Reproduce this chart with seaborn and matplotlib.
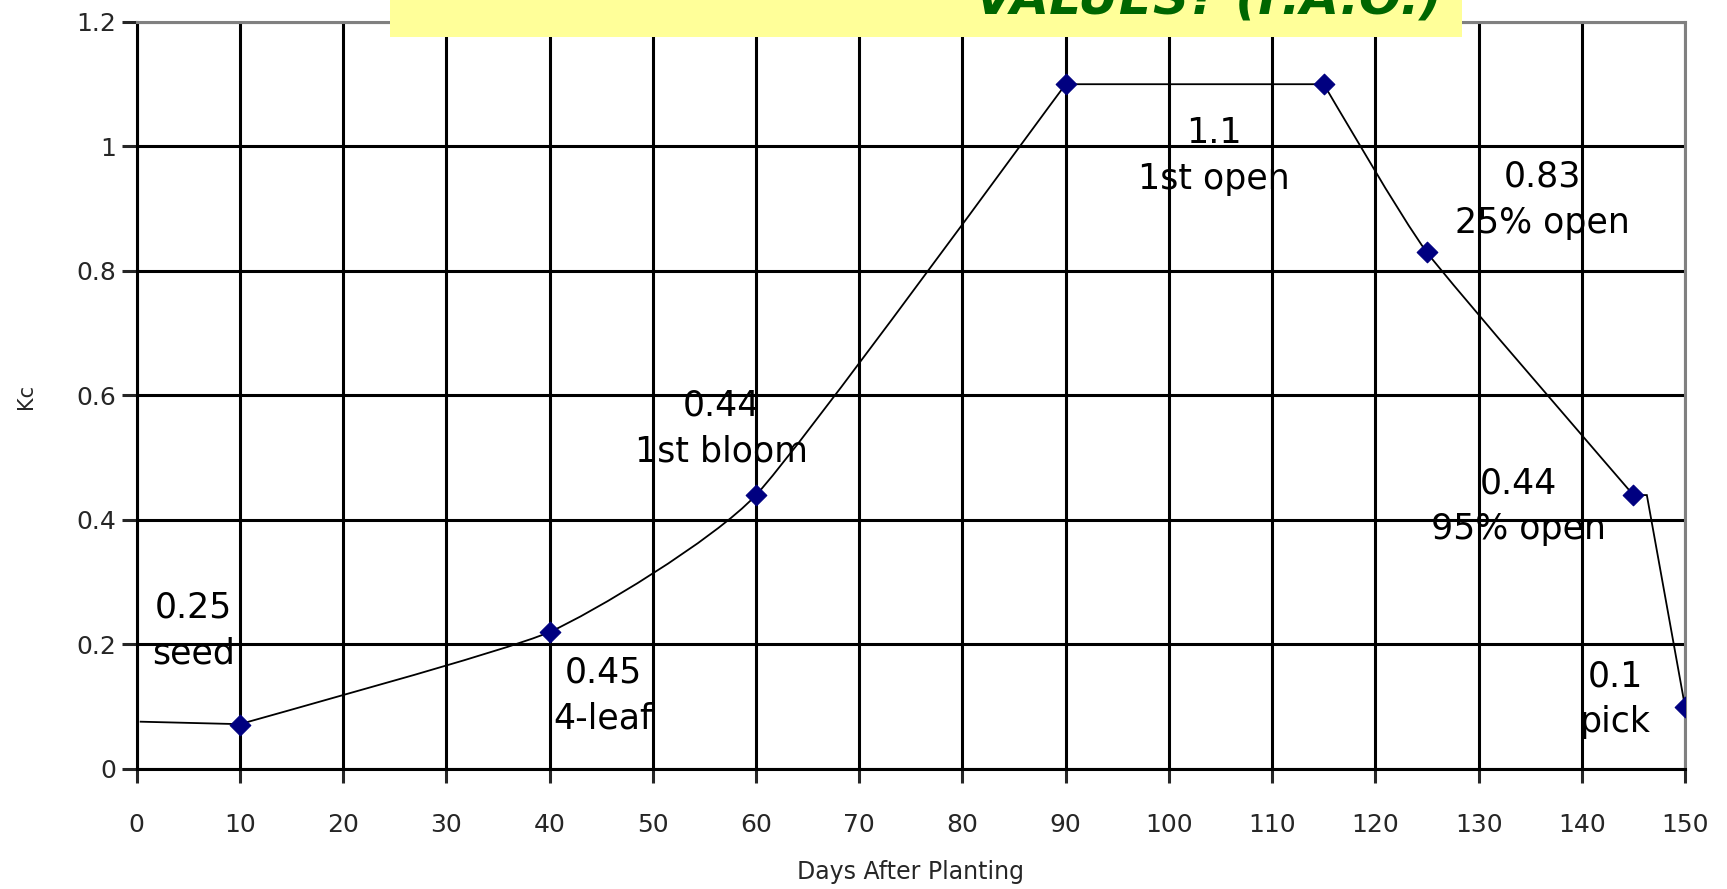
import numpy as np
import pandas as pd
import seaborn as sns
from matplotlib import pyplot as plt
from matplotlib.path import Path
from matplotlib.patches import PathPatch, Rectangle

# measured points (markers)
days = [10, 40, 60, 90, 115, 125, 145, 150]
kc = [0.07, 0.22, 0.44, 1.1, 1.1, 0.83, 0.44, 0.1]

# points the drawn line goes through (incl. the flat start and the corner before pick)
line_days = [0.3, 10, 40, 60, 90, 115, 125, 145, 146.3, 150]
line_kc = [0.076, 0.072, 0.22, 0.44, 1.1, 1.1, 0.83, 0.44, 0.44, 0.1]
# runs of line points that are drawn smoothed (Excel style), the rest is straight
smooth_runs = [(1, 4), (5, 7)]
smooth_tension = 1 / 12.0

# stage labels
label_text = ['0.25\nseed', '0.45\n4-leaf', '0.44\n1st bloom', '1.1\n1st open',
              '0.83\n25% open', '0.44\n95% open', '0.1\npick']
label_x = [5.5, 45.2, 56.7, 104.4, 136.2, 133.9, 143.3]
label_y = [0.222, 0.118, 0.547, 0.985, 0.914, 0.422, 0.112]

x_ticks = list(range(0, 151, 10))
y_ticks = [0, 0.2, 0.4, 0.6, 0.8, 1, 1.2]
y_ticklabels = ['0', '0.2', '0.4', '0.6', '0.8', '1', '1.2']

# title is cut at the top edge of the picture, only its last line bottom shows
title_text = 'VALUES? (F.A.O.)'

sns.set_style('white')
plt.rcParams['font.family'] = ['DejaVu Sans']

fig = plt.figure(figsize=(17.27, 8.89), dpi=100)
ax = fig.add_axes([0.0791, 0.135, 0.8966, 0.8403])


def run_of(i):
    for a, b in smooth_runs:
        if a <= i <= b:
            return a, b
    return None


# build the line as a path, bezier between smoothed points
pts = np.column_stack([line_days, line_kc])
verts = [pts[0]]
codes = [Path.MOVETO]
for i in range(len(pts) - 1):
    r = run_of(i)
    if r is not None and i + 1 <= r[1]:
        a, b = r
        p0 = pts[max(i - 1, a)]
        p1 = pts[i]
        p2 = pts[i + 1]
        p3 = pts[min(i + 2, b)]
        c1 = p1 + (p2 - p0) * smooth_tension
        c2 = p2 - (p3 - p1) * smooth_tension
        verts += [c1, c2, p2]
        codes += [Path.CURVE4] * 3
    else:
        verts.append(pts[i + 1])
        codes.append(Path.LINETO)
ax.add_patch(PathPatch(Path(verts, codes), facecolor='none', edgecolor='black',
                       lw=1.3, zorder=3))

df = pd.DataFrame({'Days After Planting': days, 'Kc': kc})
sns.scatterplot(data=df, x='Days After Planting', y='Kc', ax=ax, marker='D', s=110,
                color='#000080', edgecolor='#000080', zorder=4)

for t, x, y in zip(label_text, label_x, label_y):
    ax.text(x, y, t, ha='center', va='center', fontsize=25, linespacing=1.45,
            color='black', zorder=5)

ax.set_xlim(0, 150)
ax.set_ylim(0, 1.2)
ax.set_xticks(x_ticks)
ax.set_yticks(y_ticks)
ax.set_yticklabels(y_ticklabels)
ax.tick_params(axis='x', direction='out', length=10, width=2.2, pad=22, labelsize=18,
               bottom=True)
ax.tick_params(axis='y', direction='out', length=11, width=2.2, pad=4, labelsize=18,
               left=True)
ax.grid(True, color='black', lw=2.2)
ax.set_axisbelow(True)
for s in ['left', 'bottom']:
    ax.spines[s].set_color('black')
    ax.spines[s].set_linewidth(2.2)
for s in ['top', 'right']:
    ax.spines[s].set_color('#808080')
    ax.spines[s].set_linewidth(2.2)

ax.set_xlabel('Days After Planting', fontsize=17, labelpad=16)
ax.set_ylabel('')
fig.text(26 / 1727, 1 - 396 / 889, 'Kc', rotation=90, fontsize=15, ha='center', va='center')

# yellow title box, cut at the top edge
fig.patches.append(Rectangle((390 / 1727, 1 - 37 / 889), (1462 - 390) / 1727, 37 / 889,
                             transform=fig.transFigure, facecolor='#FFFF99',
                             edgecolor='none', zorder=10))
fig.text(1442 / 1727, 1 - 14 / 889, title_text, ha='right', va='baseline', fontsize=36,
         fontweight='bold', fontstyle='italic', color='#006600', zorder=11)

fig.savefig('out.png', dpi=100)
